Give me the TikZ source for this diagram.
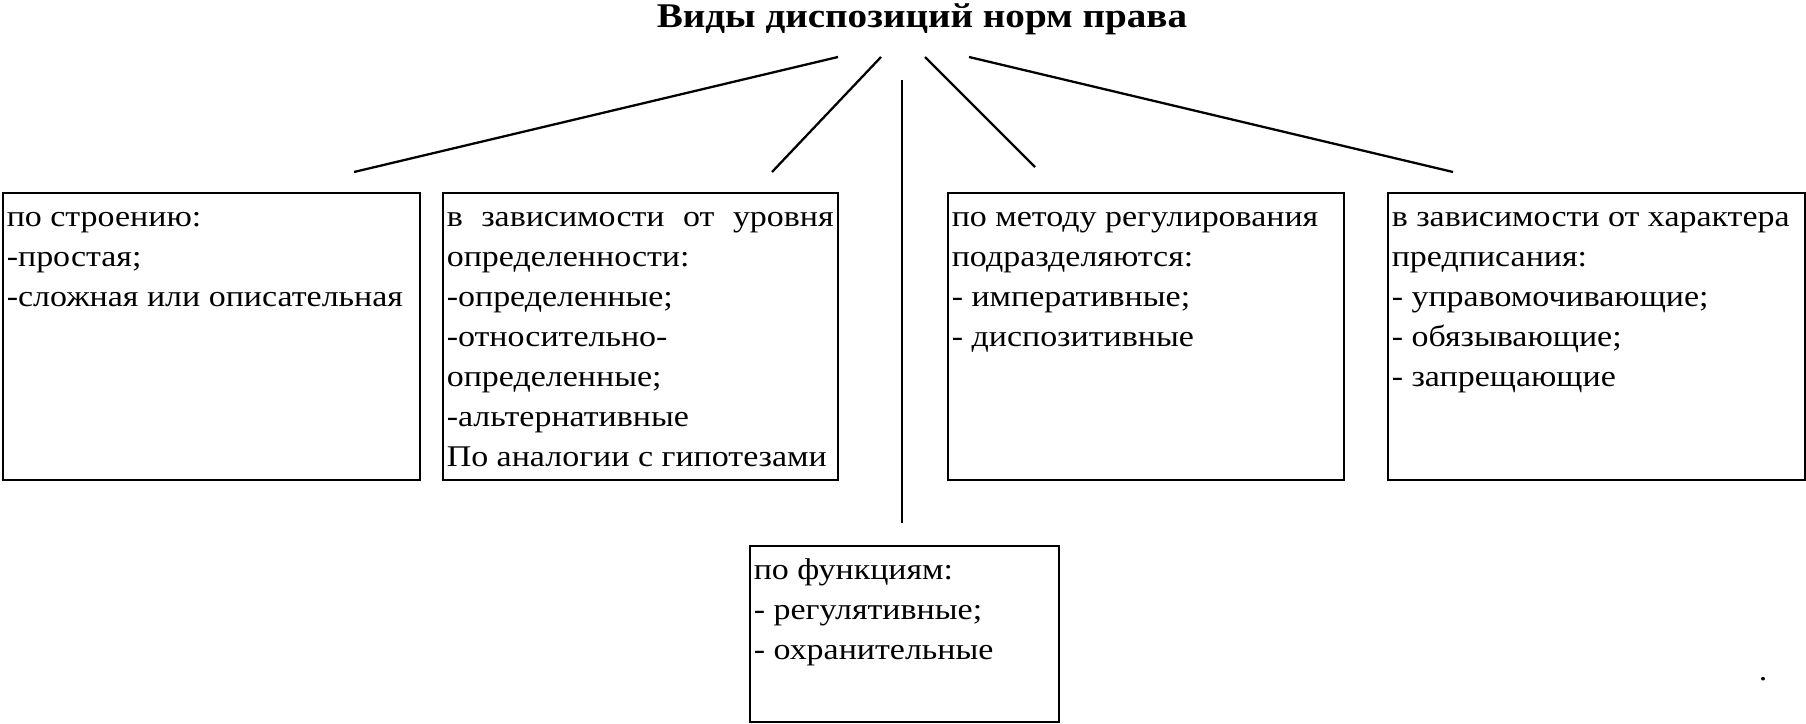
\documentclass[tikz,border=0pt]{standalone}
\usepackage{fontspec}
\setmainfont{Liberation Serif}[FakeStretch=1.13]
\usetikzlibrary{positioning}

\newcommand{\kindfont}{\fontsize{17.1}{22.76}\selectfont}
\newcommand{\kindtext}[3]{\parbox[t][#1][t]{#2}{\kindfont\rule{0pt}{0.67cm}#3}}

\begin{document}
\begin{tikzpicture}[
    kindbox/.style={draw, line width=0.9pt, anchor=north west, inner xsep=0.08cm, inner ysep=0pt},
    branch/.style={line width=1.3pt},
    stem/.style={line width=0.9pt}
]

% Page frame
\useasboundingbox (0,0) rectangle (36.12,14.46);

% Title
\node[anchor=base, font=\fontsize{19.7}{24}\selectfont\bfseries] (title) at (18.44,13.90) {Виды диспозиций норм права};

% Upper row of boxes
\node[kindbox] (structure) at (0.04,10.62) {\kindtext{5.74cm}{8.18cm}{%
по строению:\\
-простая;\\
-сложная или описательная}};

\node[kindbox] (certainty) at (8.84,10.62) {\kindtext{5.74cm}{7.74cm}{%
\makebox[\linewidth][s]{в зависимости от уровня}\\
определенности:\\
-определенные;\\
-относительно-\\
определенные;\\
-альтернативные\\
По аналогии с гипотезами}};

\node[kindbox] (method) at (18.94,10.62) {\kindtext{5.74cm}{7.76cm}{%
по методу регулирования\\
подразделяются:\\
- императивные;\\
- диспозитивные}};

\node[kindbox] (prescription) at (27.74,10.62) {\kindtext{5.74cm}{8.18cm}{%
в зависимости от характера\\
предписания:\\
- управомочивающие;\\
- обязывающие;\\
- запрещающие}};

% Lower box
\node[kindbox] (function) at (14.98,3.56) {\kindtext{3.52cm}{6.02cm}{%
по функциям:\\
- регулятивные;\\
- охранительные}};

% Stray dot
\node[anchor=base, font=\kindfont, inner sep=0pt] (dot) at (35.26,0.86) {.};

% Line ends
\coordinate (a1) at (16.76,13.32);
\coordinate (b1) at (7.08,11.02);
\coordinate (a2) at (17.62,13.32);
\coordinate (b2) at (15.44,11.02);
\coordinate (a3) at (18.04,12.86);
\coordinate (b3) at (18.04,4.00);
\coordinate (a4) at (18.50,13.32);
\coordinate (b4) at (20.70,11.12);
\coordinate (a5) at (19.38,13.32);
\coordinate (b5) at (29.06,11.02);

% Branches
\draw[branch] (a1) -- (b1);
\draw[branch] (a2) -- (b2);
\draw[stem] (a3) -- (b3);
\draw[branch] (a4) -- (b4);
\draw[branch] (a5) -- (b5);

\end{tikzpicture}
\end{document}
